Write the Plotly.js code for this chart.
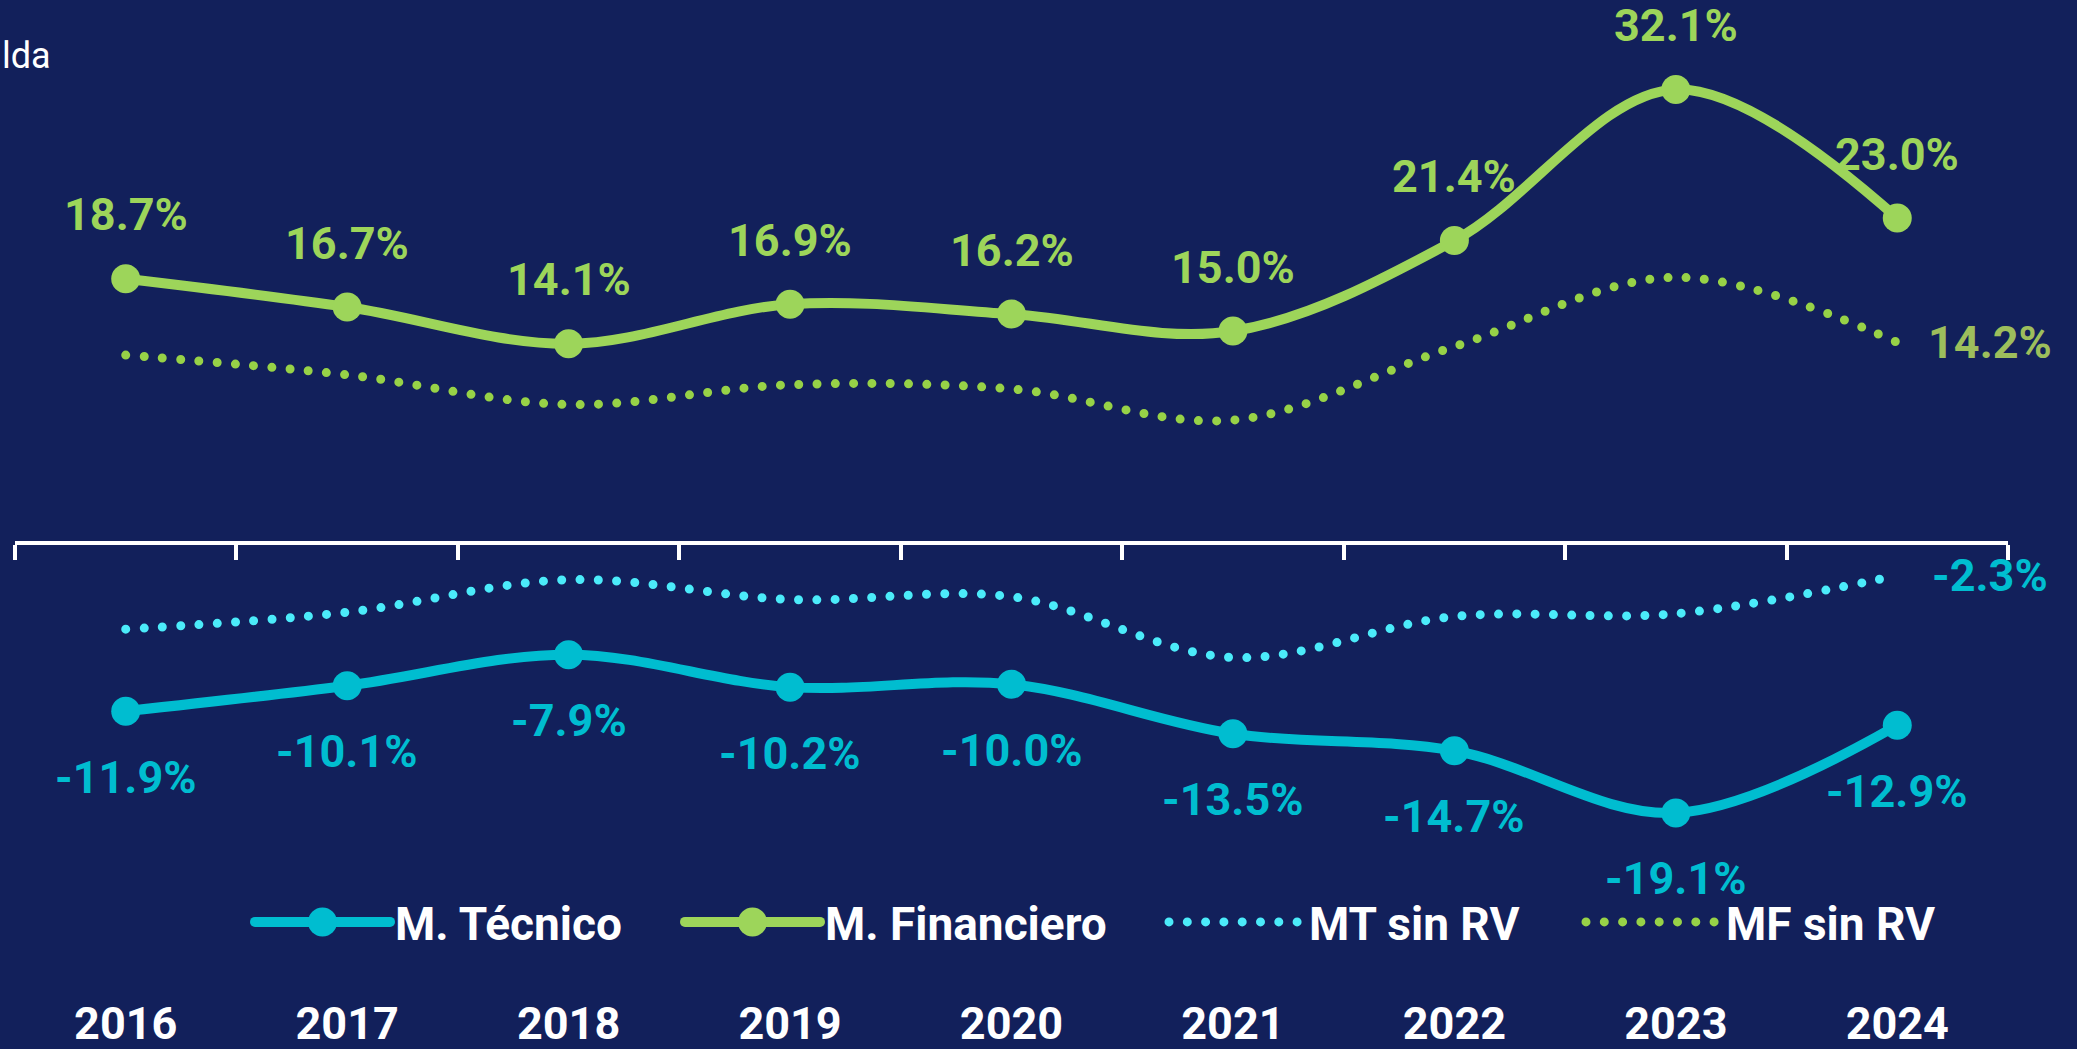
<!DOCTYPE html>
<html>
<head>
<meta charset="utf-8">
<script src="https://cdn.plot.ly/plotly-3.0.1.min.js"></script>
<style>
  html, body { margin: 0; padding: 0; background: #12205B; }
  #chart { width: 2077px; height: 1049px; }
  .js-line, .legendlines path { stroke-linecap: round; }
</style>
</head>
<body>
<div id="chart"></div>
<script>
// ---- data ----
const years = ['2016', '2017', '2018', '2019', '2020', '2021', '2022', '2023', '2024'];
const mTecnico = [-11.9, -10.1, -7.9, -10.2, -10.0, -13.5, -14.7, -19.1, -12.9];
const mFinanciero = [18.7, 16.7, 14.1, 16.9, 16.2, 15.0, 21.4, 32.1, 23.0];
const mtSinRV = [-6.1, -4.9, -2.6, -4.0, -3.8, -8.1, -5.2, -5.0, -2.3];
const mfSinRV = [13.3, 11.9, 9.8, 11.2, 10.9, 8.7, 13.9, 18.8, 14.2];
const seriesNames = ['M. Técnico', 'M. Financiero', 'MT sin RV', 'MF sin RV'];
const titleFragment = 'lda';

// ---- styles ----
const BG = '#12205B';
const CYAN = '#00BDD0';
const CYAN_DOT = '#4BEBFA';
const GREEN = '#9DD55A';
const GREEN_DOT = '#97D247';
const GREEN_MUTED = '#9DBE5C';
const FONT = 'Roboto, "Open Sans", sans-serif';

const W = 2077, H = 1049;
const M = { l: 15, r: 69, t: 0, b: 56 };
const plotW = W - M.l - M.r;
const plotH = H - M.t - M.b;
const ZERO_PX = 543, PX_PER_UNIT = 14.13;
const Y_MAX = (ZERO_PX - M.t) / PX_PER_UNIT;
const Y_MIN = -(M.t + plotH - ZERO_PX) / PX_PER_UNIT;
const zeroPos = (0 - Y_MIN) / (Y_MAX - Y_MIN);
const px2x = p => (p - M.l) / plotW;
const py2y = p => (M.t + plotH - p) / plotH;

const pct = v => v.toFixed(1) + '%';

const traces = [
  {
    x: years, y: mTecnico, name: seriesNames[0], type: 'scatter', mode: 'lines+markers',
    line: { color: CYAN, width: 10, shape: 'spline', smoothing: 1 },
    marker: { color: CYAN, size: 29 }, legend: 'legend', hoverinfo: 'skip'
  },
  {
    x: years, y: mFinanciero, name: seriesNames[1], type: 'scatter', mode: 'lines+markers',
    line: { color: GREEN, width: 10, shape: 'spline', smoothing: 1 },
    marker: { color: GREEN, size: 29 }, legend: 'legend2', hoverinfo: 'skip'
  },
  {
    x: years, y: mtSinRV, name: seriesNames[2], type: 'scatter', mode: 'lines',
    line: { color: CYAN_DOT, width: 9, shape: 'spline', smoothing: 1, dash: '0px,18.3px' },
    legend: 'legend3', hoverinfo: 'skip'
  },
  {
    x: years, y: mfSinRV, name: seriesNames[3], type: 'scatter', mode: 'lines',
    line: { color: GREEN_DOT, width: 9, shape: 'spline', smoothing: 1, dash: '0px,18.3px' },
    legend: 'legend4', hoverinfo: 'skip'
  },
  // carrier for the zero axis (x2) so its category boundaries exist
  {
    x: years, y: mTecnico, xaxis: 'x2', yaxis: 'y', type: 'scatter', mode: 'none',
    showlegend: false, hoverinfo: 'skip'
  }
];

// annotation x on a category axis: use the category index
const annotations = [];
years.forEach((yr, i) => {
  annotations.push({
    x: i, y: mFinanciero[i], xref: 'x', yref: 'y', text: pct(mFinanciero[i]),
    showarrow: false, yshift: 64, xanchor: 'center', yanchor: 'middle',
    font: { family: FONT, size: 45, color: GREEN, weight: 'bold' }
  });
  annotations.push({
    x: i, y: mTecnico[i], xref: 'x', yref: 'y', text: pct(mTecnico[i]),
    showarrow: false, yshift: -66, xanchor: 'center', yanchor: 'middle',
    font: { family: FONT, size: 45, color: CYAN, weight: 'bold' }
  });
});
const last = years.length - 1;
annotations.push({
  x: last, y: mfSinRV[last], xref: 'x', yref: 'y', text: pct(mfSinRV[last]),
  showarrow: false, xshift: 29, xanchor: 'left', yanchor: 'middle',
  font: { family: FONT, size: 45, color: GREEN_MUTED, weight: 'bold' }
});
annotations.push({
  x: last, y: mtSinRV[last], xref: 'x', yref: 'y', text: pct(mtSinRV[last]),
  showarrow: false, xshift: 33, xanchor: 'left', yanchor: 'middle',
  font: { family: FONT, size: 45, color: CYAN, weight: 'bold' }
});
annotations.push({
  x: px2x(0), y: py2y(56), xref: 'paper', yref: 'paper',
  text: titleFragment, showarrow: false, xanchor: 'left', yanchor: 'middle',
  font: { family: FONT, size: 36, color: '#FFFFFF' }
});

const legendBase = {
  orientation: 'h', yanchor: 'middle', xanchor: 'left', y: py2y(922),
  bgcolor: 'rgba(0,0,0,0)', borderwidth: 0, itemwidth: 135,
  font: { family: FONT, size: 46, color: '#FFFFFF', weight: 'bold' }
};

const layout = {
  width: W, height: H,
  margin: M,
  paper_bgcolor: BG, plot_bgcolor: BG,
  showlegend: true,
  xaxis: {
    type: 'category', categoryarray: years, categoryorder: 'array', range: [-0.5, years.length - 0.5],
    showgrid: false, zeroline: false, showline: false, ticks: '',
    tickfont: { family: FONT, size: 45, color: '#FFFFFF', weight: 'bold' },
    fixedrange: true
  },
  xaxis2: {
    type: 'category', categoryarray: years, categoryorder: 'array', range: [-0.5, years.length - 0.5],
    overlaying: 'x', anchor: 'free', position: zeroPos,
    showgrid: false, zeroline: false, showline: true, linecolor: '#FFFFFF', linewidth: 4,
    ticks: 'outside', tickson: 'boundaries', ticklen: 15, tickwidth: 4, tickcolor: '#FFFFFF',
    showticklabels: false, fixedrange: true
  },
  yaxis: {
    range: [Y_MIN, Y_MAX], showgrid: false, zeroline: false, showline: false,
    showticklabels: false, ticks: '', fixedrange: true
  },
  legend: Object.assign({}, legendBase, { x: px2x(250) }),
  legend2: Object.assign({}, legendBase, { x: px2x(680) }),
  legend3: Object.assign({}, legendBase, { x: px2x(1164) }),
  legend4: Object.assign({}, legendBase, { x: px2x(1581) }),
  annotations: annotations
};

Plotly.newPlot('chart', traces, layout, { staticPlot: true, displayModeBar: false }).then(function (gd) {
  // enlarge legend markers to match the plotted ones
  const r = 14.5;
  gd.querySelectorAll('.legendpoints path.scatterpts').forEach(function (p) {
    p.setAttribute('d', 'M' + r + ',0A' + r + ',' + r + ' 0 1,1 0,-' + r + 'A' + r + ',' + r + ' 0 0,1 ' + r + ',0Z');
  });
});
</script>
</body>
</html>
